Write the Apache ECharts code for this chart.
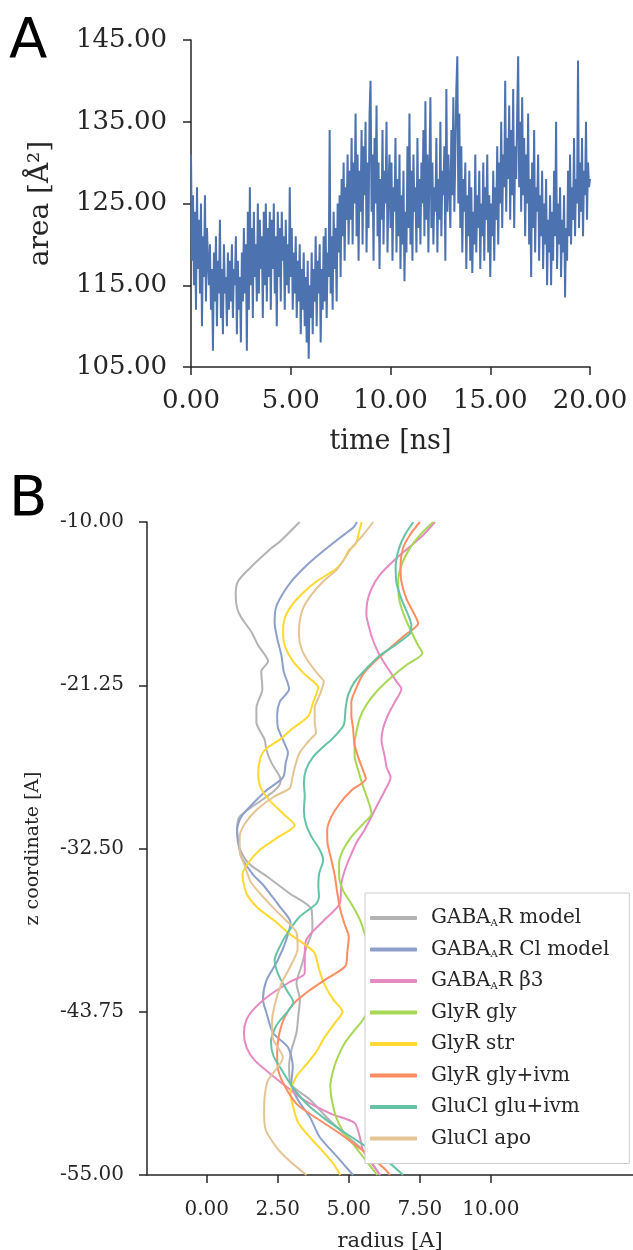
<!DOCTYPE html>
<html><head><meta charset="utf-8">
<script src="https://cdn.jsdelivr.net/npm/echarts@6/dist/echarts.min.js"></script>
<style>html,body{margin:0;padding:0;background:#fff}#c{width:633px;height:1250px}</style>
</head><body><div id="c"></div><script>
// ---------- Panel A data ----------
const TIME_STEP = 0.05; // ns between samples
const areaValues = [
131,118,126,115,124,112,127,117,123,114,125,110,121,116,126,113,122,118,115,120,
112,117,107,119,113,121,110,118,114,123,111,117,109,120,114,116,110,119,112,118,
113,120,111,117,115,121,109,118,112,116,108,119,113,122,114,120,107,124,112,127,
115,122,111,124,116,120,113,125,114,123,117,121,111,124,115,125,113,122,116,124,
112,123,117,125,114,121,110,124,116,122,113,124,118,121,112,123,115,120,114,127,
116,122,112,119,114,121,111,118,113,120,109,117,112,119,110,116,108,118,106,115,
111,119,109,117,113,121,110,118,114,120,108,117,112,121,113,122,111,119,116,134,
114,121,112,124,117,122,113,125,119,126,116,128,121,130,118,127,123,131,120,129,
123,133,120,130,125,136,121,131,118,129,124,134,120,132,126,135,119,130,122,136,
140,124,131,118,133,125,137,121,130,117,128,123,134,120,129,125,135,119,127,131,
122,130,118,127,124,133,119,128,121,131,117,126,120,129,115.5,124,119,132,122,136,
120,129,118,131,124,127,119,133,122,128,120,130,125,134,121,137.5,123,131,119,129,
138,122,130,120,127,124,133,119,128,123,135,121,129,126,132,118,139,124,131,127,
122,134,126,138,124,131,139,143,125,136,122,132,119,128,124,130,117,126,121,129,
118,127,116.5,124,120,131,119,126,122,129,117,125,121,130,118,127,123,131,119,126,
116,125,121,129,118,127,123,132,120,130,125,135,122,131,127,140,124,133,128,137,
123,134,126,139,122,132,128,136,143,127,135,124,138,126,133,121,131,125,136,120,
128,116,130,122,134,119,127,124,131,118,126,121,129,117,125,120,128,115,123,119,
126,115,124,118,129,121,135,117,125,120,127,116,123,119,126,113.5,122,118,129,121,
131,120,127,123,133,121,128,125,142.5,122,130,124,133,121,129,126,135,123,130,127,
128
];
const areaTicksY = [105, 115, 125, 135, 145];
const timeTicks = [0, 5, 10, 15, 20];

// ---------- Panel B data: [radius, z] ----------
const gabaModel = [[3.27,-10],[2.57,-11.36],[2.28,-11.8],[1.51,-13.2],[1.10,-14.1],[1.02,-15],[1.07,-15.95],[1.22,-16.6],[1.57,-17.56],[1.81,-18.5],[2.16,-19.6],[1.92,-20.3],[1.96,-21.5],[1.75,-22.8],[1.75,-23.8],[2.04,-25],[2.1,-25.7],[2.28,-26.6],[2.57,-27.55],[2.6,-27.9],[1.16,-30.3],[1.07,-31.2],[1.14,-32.4],[1.46,-33.5],[2.1,-34.4],[2.92,-35.6],[3.69,-36.7],[3.72,-38.1],[3.51,-39.3],[3.35,-40.5],[3.16,-41.8],[3.28,-42.9],[3.22,-44.1],[3.16,-45.2],[2.98,-46.4],[2.9,-47.5],[2.95,-48.7],[3.63,-49.8],[4.21,-51],[4.8,-52.1],[5.5,-53.3],[6.1,-55]];
const gabaClModel = [[5.29,-10],[5.15,-10.4],[4.68,-11.1],[4.10,-12.0],[3.51,-13],[2.98,-14.1],[2.57,-15.3],[2.43,-15.95],[2.39,-16.9],[2.48,-18],[2.63,-19.2],[2.71,-20.3],[2.9,-21.5],[2.57,-22.4],[2.48,-23.3],[2.51,-24.2],[2.75,-25.3],[2.86,-25.9],[2.78,-26.6],[2.69,-27.6],[2.1,-28.5],[1.63,-29.4],[1.22,-30.3],[1.07,-31.2],[1.12,-32.1],[1.22,-33.1],[1.63,-34.3],[1.98,-35],[2.22,-35.6],[2.57,-36.5],[2.95,-37.6],[2.8,-38.8],[2.5,-40.2],[2.1,-41.6],[1.98,-42.9],[2.1,-43.8],[2.33,-45.2],[2.86,-46.2],[3.03,-47.5],[2.98,-48.7],[3.2,-49.8],[3.63,-51],[3.98,-52.4],[4.57,-53.7],[5.15,-55]];
const gabaB3 = [[8.03,-10],[7.62,-10.9],[7.09,-11.8],[6.56,-12.7],[6.09,-13.65],[5.8,-14.6],[5.65,-15.5],[5.62,-16.4],[5.72,-17.3],[5.86,-18.2],[6.09,-19.2],[6.38,-20.1],[6.68,-21],[6.85,-21.5],[6.62,-22.4],[6.38,-23.3],[6.21,-24.2],[6.15,-25],[6.27,-26.2],[6.33,-26.9],[6.47,-27.6],[6.27,-28.5],[6.03,-29.4],[5.8,-30.3],[5.56,-31.2],[5.27,-32.1],[5.04,-33.1],[4.86,-34],[4.74,-34.9],[4.68,-36.3],[4.1,-37.5],[3.5,-38.8],[3.45,-40],[3.45,-41.1],[2.92,-41.7],[2.22,-42.6],[1.69,-43.5],[1.4,-44.3],[1.31,-45.2],[1.4,-46.2],[1.69,-47.1],[2.22,-48],[2.8,-48.9],[3.4,-49.8],[4.4,-50.8],[5.2,-51.4],[5.39,-52.4],[5.5,-53.3],[5.8,-54.2],[6.1,-55]];
const glyGly = [[7.97,-10],[7.5,-10.9],[7.15,-11.8],[6.85,-13],[6.74,-14.1],[6.77,-15.3],[6.94,-16.4],[7.2,-17.56],[7.44,-18.5],[7.59,-19.05],[7.03,-19.85],[6.44,-20.8],[5.97,-21.7],[5.62,-22.6],[5.39,-23.5],[5.27,-24.45],[5.2,-25.3],[5.21,-26.2],[5.33,-27.1],[5.5,-28.2],[5.68,-29.2],[5.8,-30.1],[5.5,-30.8],[5.09,-31.7],[4.8,-32.6],[4.66,-33.5],[4.66,-34.4],[4.8,-35.4],[5.09,-36.3],[5.39,-37.4],[5.55,-38.3],[5.75,-39.5],[6.05,-41.2],[5.85,-43],[5.5,-44.3],[5.21,-45],[4.86,-45.9],[4.62,-46.85],[4.45,-47.8],[4.35,-48.9],[4.4,-49.8],[4.55,-51],[4.8,-52],[5.2,-53],[5.6,-54],[6.0,-55]];
const glyStr = [[5.45,-10],[5.36,-10.7],[5.25,-11.5],[4.98,-12],[4.86,-12.5],[4.57,-13.2],[3.86,-14.1],[3.33,-15],[2.92,-15.95],[2.71,-16.9],[2.69,-17.8],[2.78,-18.7],[3.04,-19.6],[3.45,-20.5],[3.92,-21.4],[3.75,-22.4],[3.57,-23.4],[3.04,-24.2],[2.57,-25],[2.1,-25.6],[1.9,-26.2],[1.81,-27.3],[1.9,-28.3],[2.22,-29.2],[2.69,-30.1],[3.1,-30.9],[2.45,-31.8],[1.87,-32.6],[1.46,-33.5],[1.26,-34.3],[1.4,-35.6],[1.8,-36.6],[2.4,-37.5],[2.86,-38.3],[3.51,-39.2],[3.8,-39.7],[3.95,-40.8],[4.15,-41.9],[4.45,-42.9],[4.78,-43.75],[4.5,-44.55],[4.15,-45.5],[3.86,-46.5],[3.5,-47.4],[3.16,-48.2],[2.95,-49.4],[3.04,-50.3],[3.22,-51.4],[3.63,-52.4],[4.1,-53.4],[4.45,-54.2],[4.7,-55]];
const glyGlyIvm = [[7.5,-10],[7.15,-10.9],[6.91,-11.8],[6.82,-13],[6.85,-14.1],[7.03,-15.3],[7.32,-16.4],[7.44,-17],[6.97,-17.8],[6.44,-18.7],[5.92,-19.6],[5.5,-20.5],[5.25,-21.5],[5.09,-22.4],[5.09,-23.3],[5.15,-24.2],[5.2,-25.3],[5.33,-26.2],[5.5,-27.1],[5.6,-27.7],[5.09,-28.5],[4.68,-29.4],[4.39,-30.3],[4.24,-31.2],[4.25,-32.1],[4.39,-33.3],[4.5,-34.3],[4.6,-35.6],[4.7,-36.7],[4.85,-37.7],[5.0,-38.6],[4.95,-39.6],[4.88,-40.6],[4.2,-41.5],[3.6,-42.3],[3.1,-43.1],[2.75,-44.1],[2.55,-45.3],[2.48,-46.5],[2.5,-47.6],[2.7,-48.7],[3.16,-50.1],[3.8,-51],[4.5,-51.9],[5.15,-52.8],[5.74,-53.7],[6.33,-54.7],[6.45,-55]];
const gluGluIvm = [[7.27,-10],[6.97,-10.9],[6.77,-11.8],[6.65,-13],[6.67,-14.1],[6.85,-15.3],[7.09,-16.4],[7.2,-17.1],[7.15,-17.7],[6.62,-18.5],[6.09,-19.2],[5.62,-20.1],[5.21,-21],[4.98,-21.9],[4.89,-22.8],[4.82,-24],[4.39,-25],[4.21,-25.3],[3.74,-26.2],[3.49,-27.1],[3.42,-28],[3.45,-28.9],[3.42,-29.85],[3.49,-30.8],[3.69,-31.7],[3.98,-32.6],[4.1,-33.3],[3.96,-34.2],[3.93,-35.1],[3.95,-35.8],[3.86,-36.3],[3.27,-37.2],[2.92,-38.1],[2.63,-39.04],[2.39,-40.2],[2.45,-40.8],[2.57,-41.4],[2.86,-42.4],[3.05,-43.1],[2.86,-43.7],[2.45,-44.7],[2.26,-45.8],[2.35,-46.8],[2.65,-47.8],[2.9,-48.6],[3.2,-49.4],[3.63,-50.3],[4.21,-51.2],[4.8,-52],[5.5,-52.9],[6.21,-53.8],[6.91,-55]];
const gluApo = [[5.86,-10],[5.5,-10.9],[5.09,-11.8],[4.86,-12.5],[4.57,-13.3],[4.1,-14.1],[3.69,-15],[3.39,-15.95],[3.27,-16.9],[3.25,-17.8],[3.33,-18.7],[3.57,-19.6],[3.92,-20.5],[4.12,-21],[3.98,-21.9],[3.8,-22.8],[3.8,-23.8],[3.85,-24.5],[3.63,-25],[3.27,-25.9],[3.1,-26.9],[3.02,-27.55],[2.92,-28.35],[2.39,-28.9],[1.75,-29.85],[1.34,-30.8],[1.16,-31.7],[1.16,-32.6],[1.34,-33.7],[1.55,-34.8],[1.92,-35.7],[2.5,-36.9],[2.92,-37.7],[3.16,-38.3],[3.2,-39.4],[2.95,-40.6],[2.63,-41.8],[2.39,-43.3],[2.3,-44.5],[2.33,-45.6],[2.68,-46.9],[2.15,-48.5],[2.04,-49.6],[2.02,-50.7],[2.08,-51.9],[2.5,-53.2],[2.9,-54],[3.51,-55]];

const curveNames = ['GABAAR model','GABAARClmodel','GABAARβ3','GlyR gly','GlyR str','GlyR gly+ivm','GluCl glu+ivm','GluCl apo'];
const curveLabels = ['GABA{s|A}R model','GABA{s|A}R Cl model','GABA{s|A}R β3','GlyR gly','GlyR str','GlyR gly+ivm','GluCl glu+ivm','GluCl apo'];
const curveData = [gabaModel, gabaClModel, gabaB3, glyGly, glyStr, glyGlyIvm, gluGluIvm, gluApo];
const curveColors = ['#b3b3b3','#8da0cb','#e78ac3','#a6d854','#ffd92f','#fc8d62','#66c2a5','#e5c494'];
const zTicks = [-55, -43.75, -32.5, -21.25, -10];
const radiusTicks = [0, 2.5, 5, 7.5, 10];

// ---------- chart ----------
const SERIF = 'DejaVu Serif';
const INK = '#262626';
const chart = echarts.init(document.getElementById('c'));
const fmt2 = v => Number(v).toFixed(2);
const axisBase = (fs) => ({
  axisLine: {show: true, onZero: false, lineStyle: {color: INK, width: 1.5}},
  axisTick: {show: true, inside: false, length: 8, lineStyle: {color: INK, width: 1.5}},
  splitLine: {show: false},
  axisLabel: {fontFamily: SERIF, fontSize: fs, color: INK, formatter: fmt2},
  nameLocation: 'middle',
  nameTextStyle: {fontFamily: SERIF, fontSize: fs, color: INK}
});
function ax(fs, extra) {
  const b = axisBase(fs);
  const e = extra;
  return Object.assign({}, b, e, {
    axisLabel: Object.assign({}, b.axisLabel, e.axisLabel || {}),
    axisTick: Object.assign({}, b.axisTick, e.axisTick || {}),
    nameTextStyle: Object.assign({}, b.nameTextStyle, e.nameTextStyle || {})
  });
}
const labelMap = {};
curveNames.forEach((n, i) => labelMap[n] = curveLabels[i]);

const option = {
  animation: false,
  backgroundColor: '#fff',
  grid: [
    {left: 191, top: 40, width: 399, height: 327, outerBoundsMode: 'none'},
    {left: 147, top: 522, right: 0, height: 653, outerBoundsMode: 'none'}
  ],
  xAxis: [
    ax(26, {gridIndex: 0, type: 'value', min: 0, max: 20, interval: 5,
      axisLabel: {margin: 21, customValues: timeTicks}, axisTick: {customValues: timeTicks},
      name: 'time [ns]', nameGap: 61, nameTextStyle: {fontSize: 27}}),
    ax(20, {gridIndex: 1, type: 'value', min: -2.1, max: 15,
      axisLabel: {margin: 25, customValues: radiusTicks}, axisTick: {customValues: radiusTicks},
      name: 'radius [A]', nameGap: 56, nameTextStyle: {fontSize: 21}})
  ],
  yAxis: [
    ax(26, {gridIndex: 0, type: 'value', min: 105, max: 145,
      axisLabel: {margin: 24, customValues: areaTicksY}, axisTick: {customValues: areaTicksY},
      name: 'area [Å²]', nameGap: 136, nameRotate: 90, nameTextStyle: {fontSize: 28}}),
    ax(20, {gridIndex: 1, type: 'value', min: -55, max: -10,
      axisLabel: {margin: 23, customValues: zTicks}, axisTick: {customValues: zTicks},
      name: 'z coordinate [A]', nameGap: 104, nameRotate: 90, nameTextStyle: {fontSize: 19}})
  ],
  legend: {
    data: curveNames, orient: 'vertical', left: 365, top: 893,
    icon: 'roundRect', itemWidth: 47, itemHeight: 4, itemGap: 11.5,
    padding: [15, 20, 15, 5],
    backgroundColor: '#fff', borderColor: '#cccccc', borderWidth: 1,
    formatter: n => labelMap[n],
    textStyle: {fontFamily: SERIF, fontSize: 20, lineHeight: 20, color: INK, padding: [0, 0, 0, 9],
      rich: {s: {fontFamily: SERIF, fontSize: 10, lineHeight: 20, color: INK, padding: [10, 0, 0, 0]}}}
  },
  graphic: [
    {type: 'text', left: 9, top: 14, style: {text: 'A', font: '56px "DejaVu Sans"', fill: '#000'}},
    {type: 'text', left: 9, top: 472, style: {text: 'B', font: '56px "DejaVu Sans"', fill: '#000'}}
  ],
  series: [
    {type: 'line', xAxisIndex: 0, yAxisIndex: 0, symbol: 'none', showSymbol: false,
     data: areaValues.map((v, i) => [i * TIME_STEP, v]),
     lineStyle: {color: '#4c72b0', width: 2}, itemStyle: {color: '#4c72b0'}, silent: true}
  ].concat(curveData.map((d, i) => ({
    type: 'line', name: curveNames[i], xAxisIndex: 1, yAxisIndex: 1,
    symbol: 'none', showSymbol: false, data: d, smooth: 0.25,
    lineStyle: {color: curveColors[i], width: 2}, itemStyle: {color: curveColors[i]}
  })))
};
chart.setOption(option);
</script></body></html>
